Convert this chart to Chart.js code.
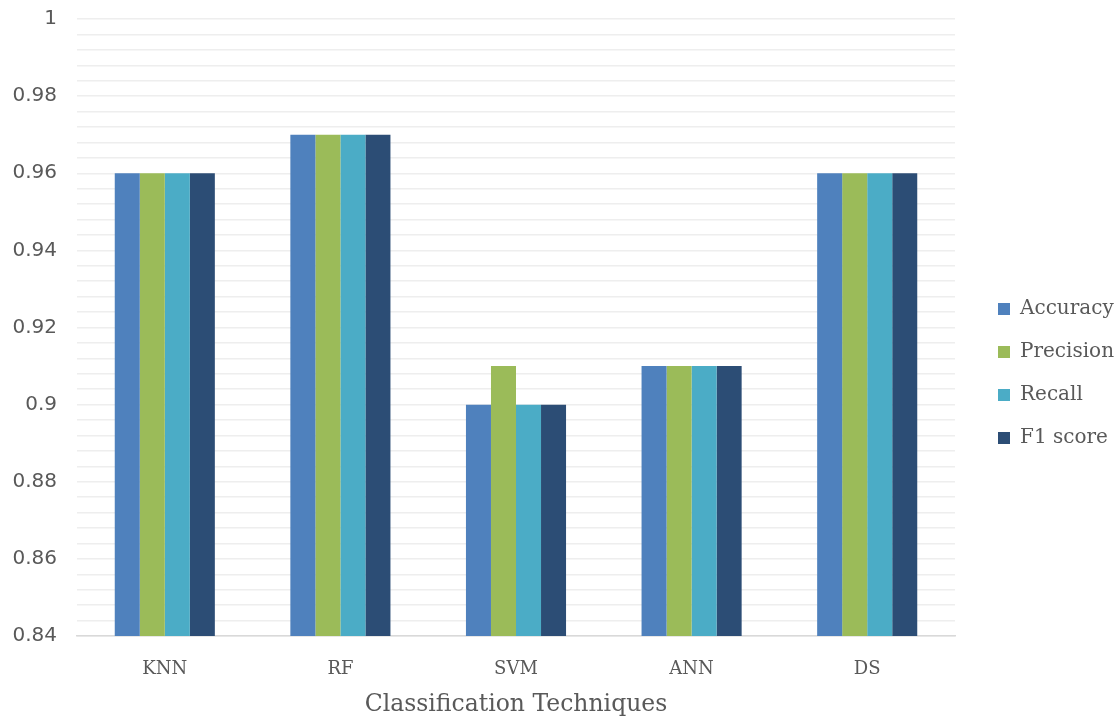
<!DOCTYPE html>
<html>
<head>
<meta charset="utf-8">
<script src="https://cdn.jsdelivr.net/npm/chart.js@4"></script>
<style>
  html, body { margin: 0; padding: 0; background: #ffffff; }
  #wrap { width: 1117px; height: 722px; position: relative; }
</style>
</head>
<body>
<div id="wrap"><canvas id="chart"></canvas></div>
<script>
// Scores per classifier
const categories = ['KNN', 'RF', 'SVM', 'ANN', 'DS'];
const accuracy  = [0.96, 0.97, 0.90, 0.91, 0.96];
const precision = [0.96, 0.97, 0.91, 0.91, 0.96];
const recall    = [0.96, 0.97, 0.90, 0.91, 0.96];
const f1score   = [0.96, 0.97, 0.90, 0.91, 0.96];

const seriesNames = ['Accuracy', 'Precision', 'Recall', 'F1 score'];
const yTickLabels = ['0.84', '0.86', '0.88', '0.9', '0.92', '0.94', '0.96', '0.98', '1'];
const yMin = 0.84;
const yMax = 1;
const minorStep = 0.004;

const colors = ['#4F81BD', '#9BBB59', '#4BACC6', '#2C4D75'];
const seriesValues = [accuracy, precision, recall, f1score];

const datasets = seriesNames.map((name, i) => ({
  label: name,
  data: seriesValues[i],
  backgroundColor: colors[i],
  borderWidth: 0,
  categoryPercentage: 0.57,
  barPercentage: 1.0
}));

// Legend column: fixed width, boxes lined up at a fixed x
const LEGEND_WIDTH = 162;
const LEGEND_BOX_X = 998;
const LEGEND_PAD = 23;
const LEGEND_SHIFT_Y = 3;
const legendPlace = {
  id: 'legendPlace',
  beforeLayout(chart) {
    const lg = chart.legend;
    if (lg && !lg._fixedWidth) {
      const fit = lg.fit;
      lg.fit = function () { fit.call(this); this.width = LEGEND_WIDTH; };
      lg._fixedWidth = true;
    }
  },
  afterLayout(chart) {
    const lg = chart.legend;
    lg.left = LEGEND_BOX_X - LEGEND_PAD;
    lg.right = lg.left + lg.width;
    lg.top += LEGEND_SHIFT_Y;
    lg.bottom += LEGEND_SHIFT_Y;
  }
};

new Chart(document.getElementById('chart'), {
  type: 'bar',
  data: { labels: categories, datasets },
  plugins: [legendPlace],
  options: {
    responsive: true,
    maintainAspectRatio: false,
    animation: false,
    layout: { padding: { top: 19, right: 0, left: 0, bottom: 0 } },
    plugins: {
      tooltip: { enabled: false },
      legend: {
        position: 'right',
        align: 'center',
        labels: {
          boxWidth: 12,
          boxHeight: 12,
          padding: LEGEND_PAD,
          color: '#595959',
          font: { family: 'DejaVu Serif', size: 20 }
        }
      }
    },
    scales: {
      x: {
        grid: { display: false, drawTicks: false },
        border: { display: true, color: '#d9d9d9', width: 1.5 },
        ticks: {
          color: '#595959',
          padding: 23,
          font: { family: 'DejaVu Serif', size: 18 }
        },
        title: {
          display: true,
          text: 'Classification Techniques',
          color: '#595959',
          font: { family: 'DejaVu Serif', size: 23.5 },
          padding: { top: 4, bottom: 3 }
        },
        afterFit(scale) { scale.height = 86; }
      },
      y: {
        min: yMin,
        max: yMax,
        afterBuildTicks(scale) {
          const ticks = [];
          const n = Math.round((yMax - yMin) / minorStep);
          for (let i = 0; i <= n; i++) {
            ticks.push({ value: +(yMin + i * minorStep).toFixed(4) });
          }
          scale.ticks = ticks;
        },
        grid: { color: '#eeeeee', lineWidth: 1.5, drawTicks: false },
        border: { display: false },
        ticks: {
          autoSkip: false,
          color: '#595959',
          padding: 20,
          font: { family: 'DejaVu Sans', size: 20 },
          callback(value, index) {
            return index % 5 === 0 ? yTickLabels[index / 5] : '';
          }
        },
        afterFit(scale) {
          scale.width = 77;
          scale.paddingTop = 0;
          scale.paddingBottom = 0;
        }
      }
    }
  }
});
</script>
</body>
</html>
